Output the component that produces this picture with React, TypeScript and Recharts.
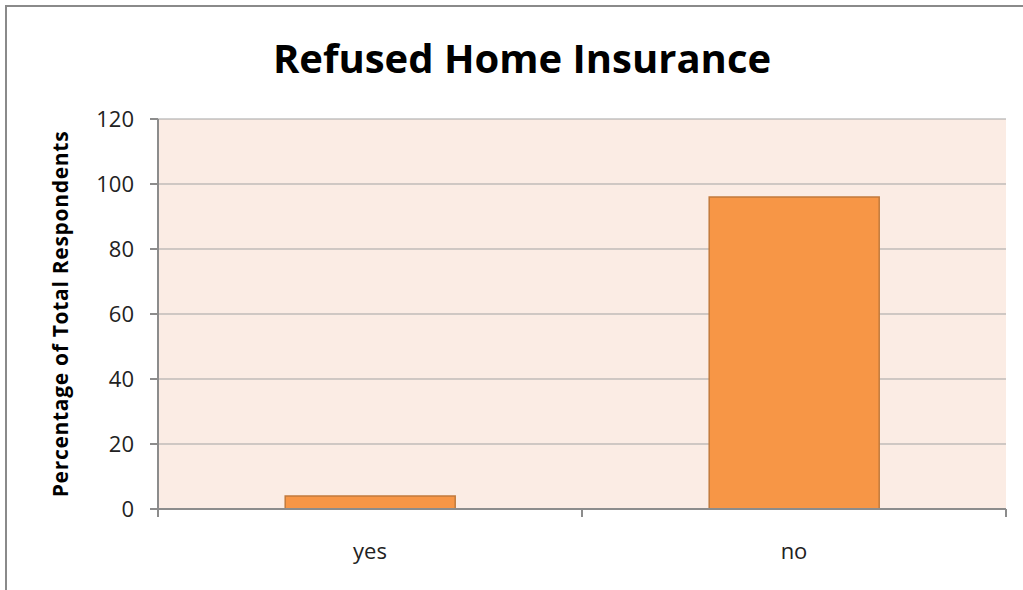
import React from 'react';
import { BarChart, Bar, XAxis, YAxis, CartesianGrid } from 'recharts';

const categories = ['yes', 'no'];
const percentages = [4, 96];
const yTicks = [0, 20, 40, 60, 80, 100, 120];

const data = categories.map((name, i) => ({ name, value: percentages[i] }));

const FONT = '"Open Sans", Lato, sans-serif';
const AXIS = '#8c8c8c';
const X_TICK_MARGIN = 34;

const YLabel = (props: any) => {
  const { viewBox } = props;
  const cy = viewBox.y + viewBox.height / 2;
  return (
    <text
      x={60}
      y={cy}
      transform={`rotate(-90, 60, ${cy})`}
      textAnchor="middle"
      dominantBaseline="central"
      fontFamily={FONT}
      fontWeight="bold"
      fontSize={21}
      letterSpacing={0.7}
      fill="#000"
    >
      Percentage of Total Respondents
    </text>
  );
};

// category label plus tick marks at both edges of the band
const CatTick = (props: any) => {
  const { x, y, payload } = props;
  const half = payload && payload.offset ? payload.offset : 0;
  const axisY = y - X_TICK_MARGIN;
  return (
    <g>
      {half > 0 && (
        <>
          <line x1={x - half} x2={x - half} y1={axisY} y2={axisY + 8} stroke={AXIS} strokeWidth={2} />
          <line x1={x + half} x2={x + half} y1={axisY} y2={axisY + 8} stroke={AXIS} strokeWidth={2} />
        </>
      )}
      <text x={x} y={y} dy="0.71em" textAnchor="middle" fontFamily={FONT} fontSize={22} fill="#222">
        {payload.value}
      </text>
    </g>
  );
};

const App = () => {
  return (
    <div style={{ position: 'absolute', left: 0, top: 0, width: 1023, height: 590, overflow: 'hidden', background: '#fff' }}>
      {/* chart frame, only left and top edges are visible */}
      <div style={{ position: 'absolute', left: 5, top: 5, width: 1100, height: 700, border: '2px solid #8a8a8a' }} />
      <div
        style={{
          position: 'absolute',
          left: 0,
          top: 30,
          width: 1044,
          textAlign: 'center',
          fontFamily: FONT,
          fontWeight: 'bold',
          fontSize: 40,
          lineHeight: '56px',
          color: '#000',
        }}
      >
        Refused Home Insurance
      </div>
      <div style={{ position: 'absolute', left: 0, top: 0 }}>
        <BarChart
          width={1023}
          height={590}
          data={data}
          margin={{ top: 119, right: 17, bottom: 51, left: 0 }}
          barCategoryGap="30%"
        >
          <CartesianGrid vertical={false} stroke="#a3a3a3" fill="#fbece4" />
          <XAxis
            dataKey="name"
            height={30}
            tickLine={false}
            tickSize={0}
            axisLine={{ stroke: AXIS, strokeWidth: 2 }}
            tickMargin={X_TICK_MARGIN}
            tick={<CatTick />}
          />
          <YAxis
            width={158}
            domain={[0, 120]}
            ticks={yTicks}
            tickSize={8}
            tickMargin={16}
            axisLine={{ stroke: AXIS, strokeWidth: 2 }}
            tickLine={{ stroke: AXIS, strokeWidth: 2 }}
            tick={{ fontFamily: FONT, fontSize: 22, fill: '#222' }}
            label={<YLabel />}
          />
          <Bar
            dataKey="value"
            fill="#f79646"
            stroke="#c27a3c"
            strokeWidth={1.5}
            isAnimationActive={false}
          />
        </BarChart>
      </div>
    </div>
  );
};

export default App;
